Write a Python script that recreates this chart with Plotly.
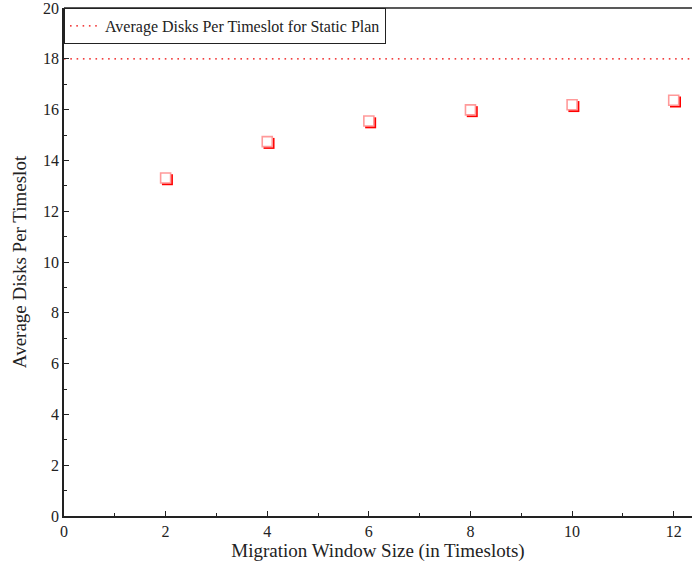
import plotly.graph_objects as go

# Migration window sizes and the resulting average disks per timeslot
window_sizes = [2, 4, 6, 8, 10, 12]
avg_disks = [13.31, 14.74, 15.55, 15.99, 16.19, 16.37]

# Reference level for the static plan
static_plan_level = 18.0

x_range = [0, 12.36]
y_range = [0, 20]

# pixel geometry used to offset the marker shadow layer
plot_w = 692 - 64
plot_h = 571 - 8 - 55
shadow_px = 1.8
dx = shadow_px * (x_range[1] - x_range[0]) / plot_w
dy = shadow_px * (y_range[1] - y_range[0]) / plot_h

font_family = "Times New Roman, Liberation Serif, serif"

fig = go.Figure()

# static plan reference line
fig.add_trace(go.Scatter(
    x=x_range, y=[static_plan_level, static_plan_level],
    mode="lines",
    line=dict(color="#ee0000", width=1.2, dash="1.6px,4.7px"),
    name="Average Disks Per Timeslot for Static Plan",
    showlegend=True,
))

# shadow layer of the markers (drawn on shifted overlay axes)
fig.add_trace(go.Scatter(
    x=window_sizes, y=avg_disks,
    mode="markers",
    marker=dict(symbol="square", size=11, color="#ff0000",
                line=dict(color="#ff0000", width=0)),
    xaxis="x2", yaxis="y2",
    showlegend=False, hoverinfo="skip",
))

# main markers, on an unshifted overlay so they sit above the shadow
fig.add_trace(go.Scatter(
    x=window_sizes, y=avg_disks,
    mode="markers",
    marker=dict(symbol="square", size=10, color="white",
                line=dict(color="#ff9a9a", width=1.6)),
    xaxis="x3", yaxis="y3",
    showlegend=False,
))

axis_common = dict(
    showgrid=False, zeroline=False,
    ticks="inside", ticklen=5, tickwidth=1, tickcolor="#222",
    showline=True, linecolor="#222", linewidth=1.5,
    tickfont=dict(family=font_family, size=16, color="#222"),
    ticklabeloverflow="allow",
)

fig.update_layout(
    width=692, height=571,
    margin=dict(l=64, r=0, t=8, b=55),
    paper_bgcolor="white", plot_bgcolor="white",
    font=dict(family=font_family, color="#222"),
    xaxis=dict(
        range=x_range, tickvals=[0, 2, 4, 6, 8, 10, 12],
        minor=dict(tickvals=[1, 3, 5, 7, 9, 11], ticks="inside",
                   ticklen=3, tickcolor="#222"),
        title=dict(text="Migration Window Size (in Timeslots)",
                   font=dict(family=font_family, size=19), standoff=3),
        **axis_common,
    ),
    yaxis=dict(
        range=y_range, tickvals=list(range(0, 21, 2)),
        minor=dict(tickvals=list(range(1, 20, 2)), ticks="inside",
                   ticklen=3, tickcolor="#222"),
        title=dict(text="Average Disks Per Timeslot",
                   font=dict(family=font_family, size=19), standoff=11),
        **axis_common,
    ),
    xaxis2=dict(range=[x_range[0] - dx, x_range[1] - dx], overlaying="x",
                visible=False),
    yaxis2=dict(range=[y_range[0] + dy, y_range[1] + dy], overlaying="y",
                visible=False),
    xaxis3=dict(range=x_range, overlaying="x", visible=False),
    yaxis3=dict(range=y_range, overlaying="y", visible=False),
    legend=dict(
        x=0, y=1, xanchor="left", yanchor="top",
        bgcolor="white", bordercolor="#222", borderwidth=1,
        font=dict(family=font_family, size=16, color="#222"),
        itemwidth=30,
    ),
    showlegend=True,
)

# top frame line across the plot area
fig.add_shape(type="line", xref="paper", yref="paper",
              x0=0, x1=1, y0=1, y1=1,
              line=dict(color="#222", width=1.5))

fig.write_html("out.html")
